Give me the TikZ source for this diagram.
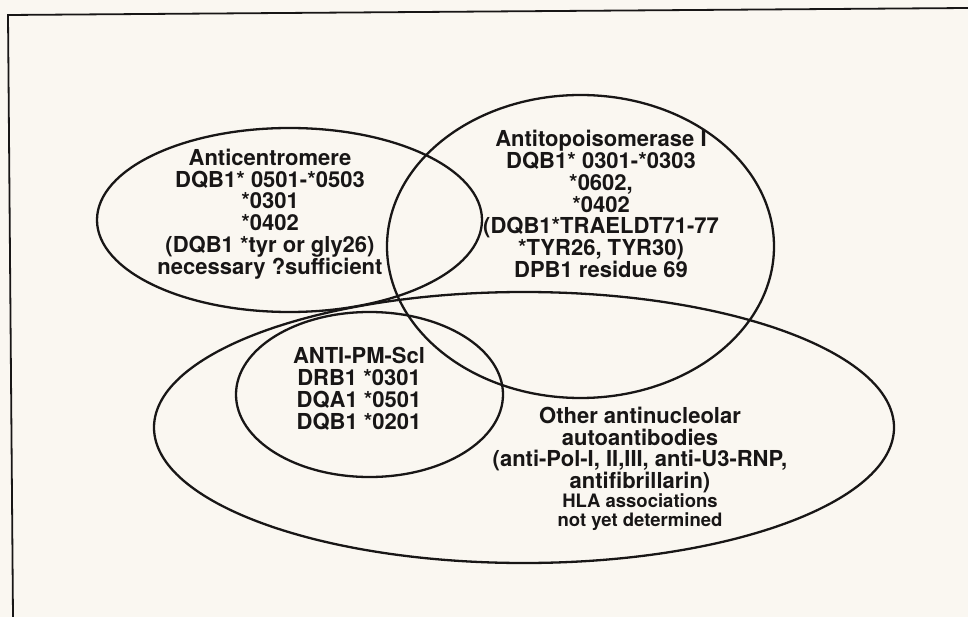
\documentclass[tikz,border=0pt]{standalone}
\usepackage{fontspec}
\setmainfont{TeX Gyre Heros}
\usepackage{xcolor}
\usetikzlibrary{shapes.geometric}
\definecolor{paper}{RGB}{250, 247, 241}
\definecolor{ink}{RGB}{24, 22, 22}

\begin{document}
\begin{tikzpicture}[x=1pt, y=-1pt,
    venn/.style={ellipse, draw=ink, line width=2.3pt, inner sep=0pt},
    setlabel/.style={align=center, text=ink, font=\fontsize{22}{21.8}\selectfont\bfseries},
    smalllabel/.style={align=center, text=ink, font=\fontsize{18.5}{18.5}\selectfont\bfseries}]
    % Paper and frame
    \fill[paper] (0,0) rectangle (968,617);
    \useasboundingbox (0,0) rectangle (968,617);
    \draw[ink, line width=1.8pt] (968,8) -- (8,15) -- (13,617);

    % Sets
    \node[venn, minimum width=385pt, minimum height=184pt] (anticentro) at (289.5,220) {};
    \node[venn, minimum width=387pt, minimum height=303pt] (antitopo) at (580.5,246.5) {};
    \node[venn, minimum width=740pt, minimum height=271pt] (antinucl) at (524,427.5) {};
    \node[venn, minimum width=267pt, minimum height=165pt] (pmscl) at (369.5,394.5) {};

    % Labels
    \node[setlabel] (anticentro-txt) at (270,214) {Anticentromere\\ DQB1* 0501-*0503\\ *0301\\ *0402\\ (DQB1 *tyr or gly26)\\ necessary ?sufficient};
    \node[setlabel] (antitopo-txt) at (601,204) {Antitopoisomerase I\\ DQB1* 0301-*0303\\ *0602,\\ *0402\\ (DQB1*TRAELDT71-77\\ *TYR26, TYR30)\\ DPB1 residue 69};
    \node[setlabel] (pmscl-txt) at (359,389) {ANTI-PM-Scl\\ DRB1 *0301\\ DQA1 *0501\\ DQB1 *0201};
    \node[setlabel] (antinucl-txt) at (640,450) {Other antinucleolar\\ autoantibodies\\ (anti-Pol-I, II,III, anti-U3-RNP,\\ antifibrillarin)};
    \node[smalllabel] (antinucl-hla) at (640,512) {HLA associations\\ not yet determined};
\end{tikzpicture}
\end{document}
